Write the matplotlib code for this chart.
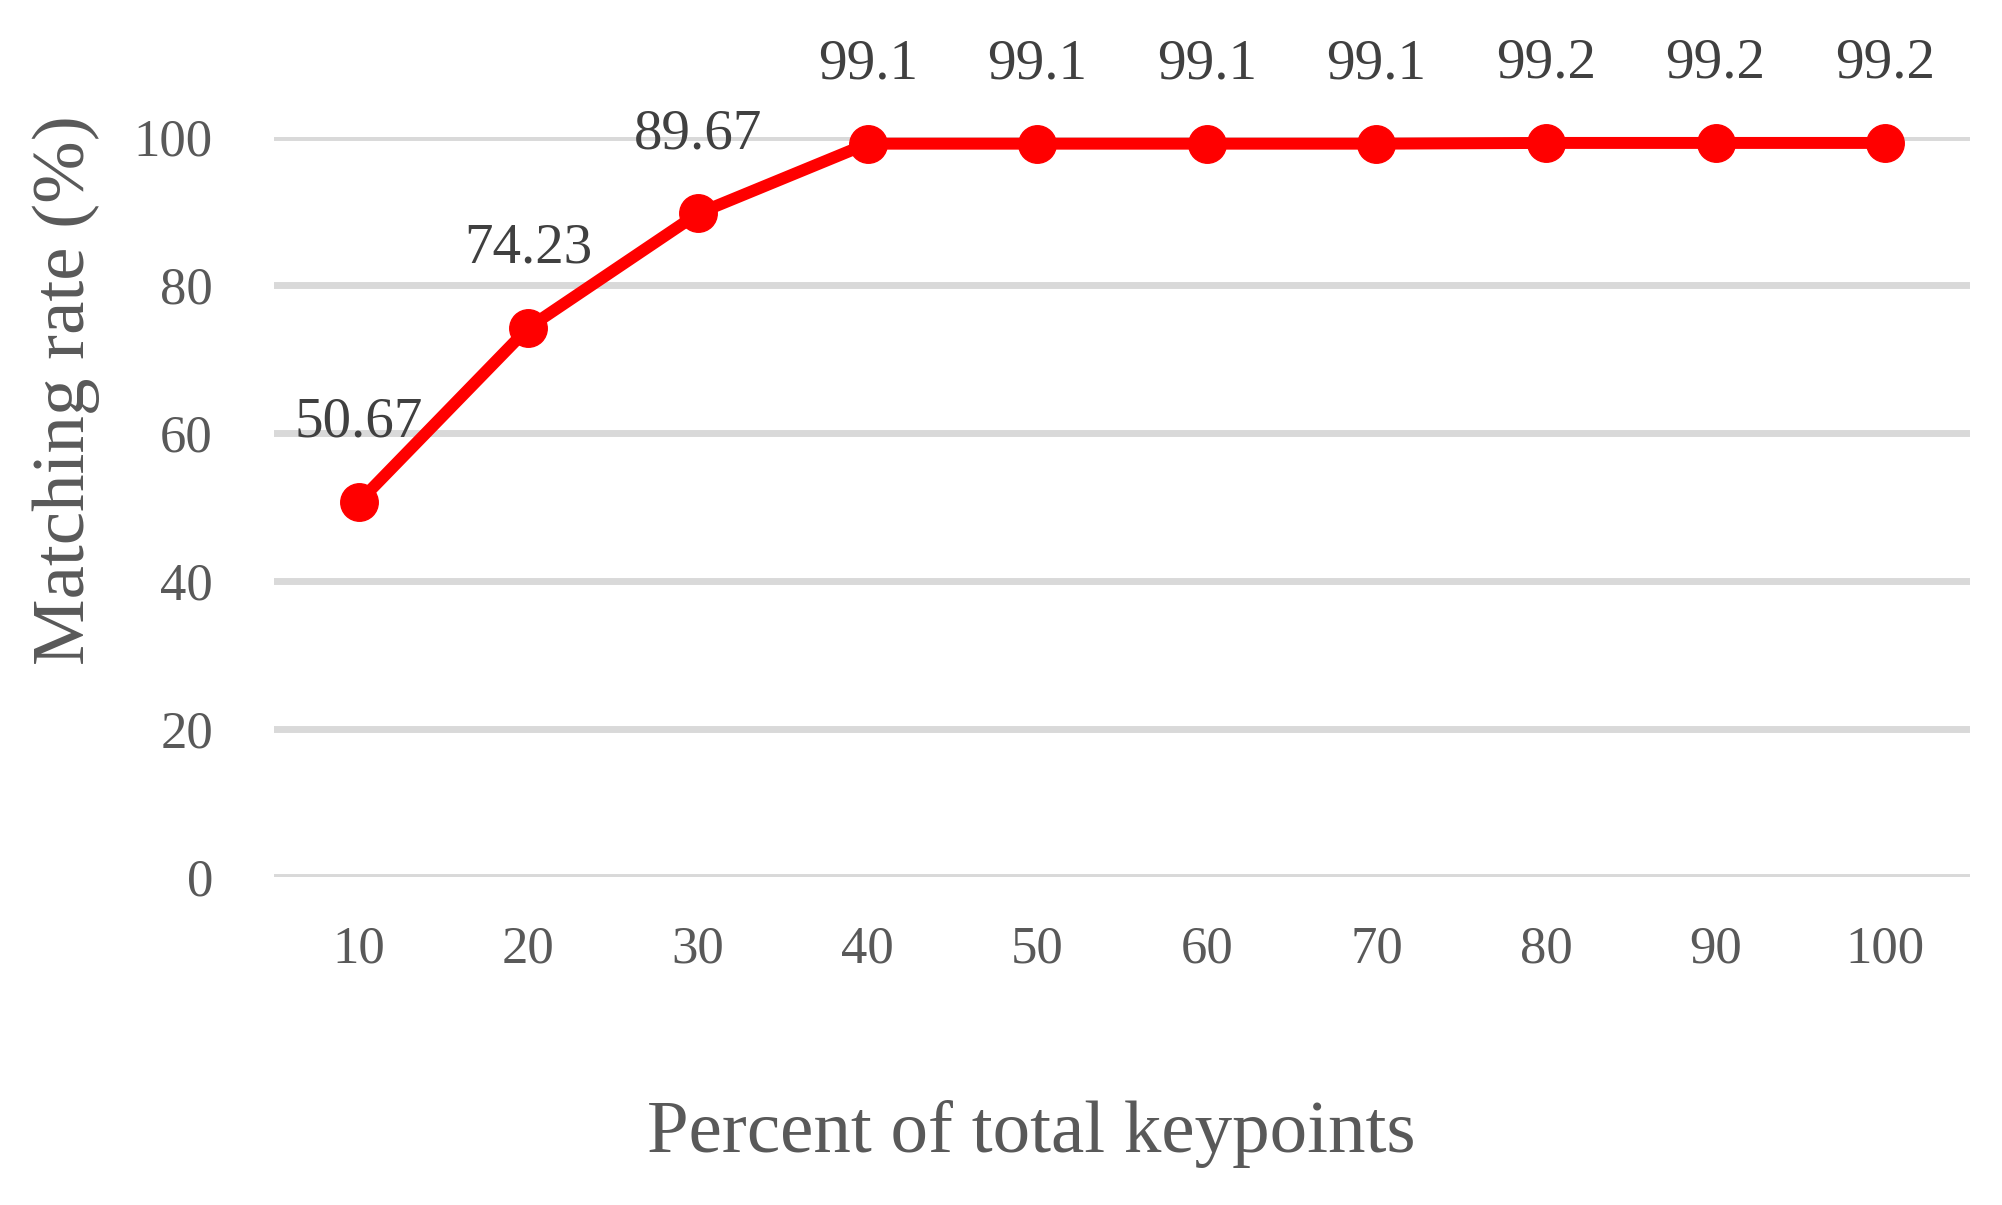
import matplotlib.pyplot as plt
import numpy as np

# data
percent = ['10', '20', '30', '40', '50', '60', '70', '80', '90', '100']
rate = [50.67, 74.23, 89.67, 99.1, 99.1, 99.1, 99.1, 99.2, 99.2, 99.2]
rate_labels = ['50.67', '74.23', '89.67', '99.1', '99.1', '99.1', '99.1', '99.2', '99.2', '99.2']
yticks = [0, 20, 40, 60, 80, 100]

plt.rcParams['font.family'] = ['Liberation Serif', 'DejaVu Serif']

fig = plt.figure(figsize=(20.02, 12.05), dpi=100)
ax = fig.add_axes([0.1369, 0.2722, 0.8471, 0.6141])

x = np.arange(len(percent))
ax.plot(x, rate, color='#FF0000', lw=8.6, marker='o', ms=27, zorder=3, clip_on=False)

# value labels above each point
for xi, yi, s in zip(x, rate, rate_labels):
    ax.annotate(s, (xi, yi), xytext=(0, 57), textcoords='offset points',
                ha='center', va='center', fontsize=41, color='#404040')

ax.set_xlim(-0.5, len(percent) - 0.5)
ax.set_ylim(0, 100)
ax.set_xticks(x)
ax.set_xticklabels(percent)
ax.set_yticks(yticks)
ax.grid(axis='y', color='#D9D9D9', lw=5)
ax.set_axisbelow(True)
for s in ax.spines.values():
    s.set_visible(False)
ax.tick_params(length=0, labelsize=38, colors='#595959')
ax.tick_params(axis='x', pad=35)
ax.tick_params(axis='y', pad=44)

# axis titles placed like the Excel chart (centred on the chart, not the plot area)
fig.text(0.515, 0.0593, 'Percent of total keypoints', fontsize=54, color='#595959',
         ha='center', va='center')
fig.text(0.0332, 0.676, 'Matching rate (%)', fontsize=54, color='#595959',
         ha='center', va='center', rotation=90)

fig.savefig('out.png', dpi=100)
